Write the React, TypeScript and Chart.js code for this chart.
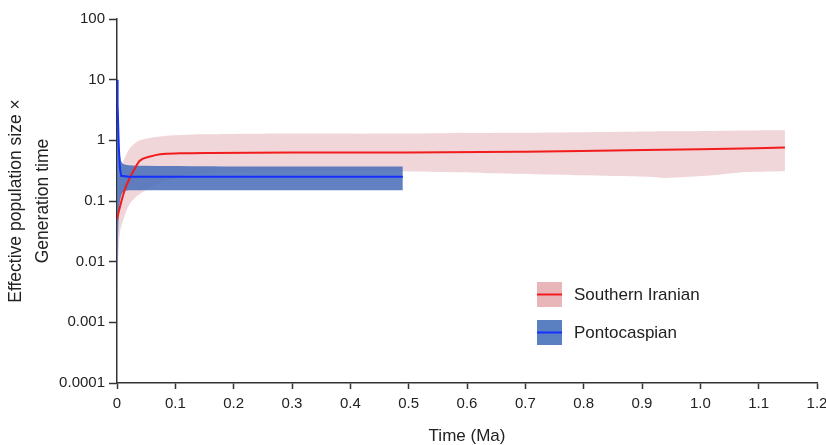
import React, { useEffect, useRef } from 'react';
import { Chart, registerables } from 'chart.js';

Chart.register(...registerables);

// ---- Axis ticks ----
const xTickValues = [0, 0.1, 0.2, 0.3, 0.4, 0.5, 0.6, 0.7, 0.8, 0.9, 1.0, 1.1, 1.2];
const xTickLabels = ['0', '0.1', '0.2', '0.3', '0.4', '0.5', '0.6', '0.7', '0.8', '0.9', '1.0', '1.1', '1.2'];
const yTickValues = [0.0001, 0.001, 0.01, 0.1, 1, 10, 100];
const yTickLabels = ['0.0001', '0.001', '0.01', '0.1', '1', '10', '100'];

// ---- Southern Iranian (95% HPD band + median) ----
const iranBandTime = [0, 0.005, 0.014, 0.022, 0.039, 0.074, 0.12, 0.2, 0.3, 0.45, 0.565, 0.68, 0.79, 0.91, 0.94, 1.02, 1.08, 1.145];
const iranUpper = [0.1, 0.32, 0.53, 0.74, 1.0, 1.16, 1.24, 1.27, 1.29, 1.29, 1.31, 1.33, 1.36, 1.4, 1.41, 1.43, 1.45, 1.46];
const iranLower = [0.003, 0.03, 0.06, 0.09, 0.13, 0.2, 0.27, 0.3, 0.31, 0.31, 0.3, 0.28, 0.265, 0.25, 0.24, 0.265, 0.3, 0.31];
const iranMedianTime = [0, 0.005, 0.014, 0.022, 0.031, 0.039, 0.057, 0.074, 0.108, 0.16, 0.3, 0.5, 0.7, 0.85, 1.0, 1.145];
const iranMedian = [0.05, 0.08, 0.16, 0.24, 0.35, 0.46, 0.54, 0.59, 0.61, 0.62, 0.63, 0.63, 0.65, 0.68, 0.71, 0.76];

// ---- Pontocaspian (95% HPD band + median) ----
const pontoBandTime = [0, 0.002, 0.004, 0.006, 0.01, 0.02, 0.05, 0.2, 0.49];
const pontoUpper = [12, 3, 0.9, 0.5, 0.41, 0.39, 0.38, 0.37, 0.37];
const pontoLower = [0.003, 0.03, 0.08, 0.11, 0.14, 0.15, 0.15, 0.15, 0.15];
const pontoMedianTime = [0, 0.001, 0.003, 0.005, 0.007, 0.02, 0.49];
const pontoMedian = [10, 4, 0.8, 0.35, 0.26, 0.25, 0.25];

const seriesNames = ['Southern Iranian', 'Pontocaspian'];

const FONT = '"Liberation Sans", Arial, Helvetica, sans-serif';
const AXIS_COLOR = '#333333';
const TEXT_COLOR = '#222222';

const iranBandColor = 'rgba(218,152,160,0.4)';
const iranLineColor = '#f21c1c';
const pontoBandColor = 'rgba(75,112,185,0.88)';
const pontoLineColor = '#1430ff';
const legendSwatches = ['#e8b5b9', '#5b80c2'];
const legendLines = [iranLineColor, pontoLineColor];

const pts = (xs: number[], ys: number[]) => xs.map((x, i) => ({ x, y: ys[i] }));

const legendPlugin = {
  id: 'customLegend',
  afterDraw(chart: any) {
    const { ctx, chartArea } = chart;
    const left = chartArea.left + 420;
    const top = chartArea.top + 263;
    const box = 25;
    const gap = 38;
    ctx.save();
    seriesNames.forEach((name, i) => {
      const y = top + i * gap;
      ctx.fillStyle = legendSwatches[i];
      ctx.fillRect(left, y, box, box);
      ctx.strokeStyle = legendLines[i];
      ctx.lineWidth = 2;
      ctx.beginPath();
      ctx.moveTo(left, y + box / 2);
      ctx.lineTo(left + box, y + box / 2);
      ctx.stroke();
      ctx.fillStyle = TEXT_COLOR;
      ctx.font = `17px ${FONT}`;
      ctx.textAlign = 'left';
      ctx.textBaseline = 'middle';
      ctx.fillText(name, left + box + 12, y + box / 2 + 1);
    });
    ctx.restore();
  },
};

export default function App() {
  const canvasRef = useRef<HTMLCanvasElement | null>(null);

  useEffect(() => {
    if (!canvasRef.current) return;
    const bandCommon = { borderWidth: 0, pointRadius: 0, pointHoverRadius: 0, tension: 0.3 };
    const chart = new Chart(canvasRef.current, {
      type: 'line',
      data: {
        datasets: [
          {
            label: seriesNames[0] + ' upper',
            data: pts(iranBandTime, iranUpper),
            backgroundColor: iranBandColor,
            fill: '+1',
            order: 4,
            ...bandCommon,
          },
          {
            label: seriesNames[0] + ' lower',
            data: pts(iranBandTime, iranLower),
            fill: false,
            order: 4,
            ...bandCommon,
          },
          {
            label: seriesNames[1] + ' upper',
            data: pts(pontoBandTime, pontoUpper),
            backgroundColor: pontoBandColor,
            fill: '+1',
            order: 3,
            ...bandCommon,
          },
          {
            label: seriesNames[1] + ' lower',
            data: pts(pontoBandTime, pontoLower),
            fill: false,
            order: 3,
            ...bandCommon,
          },
          {
            label: seriesNames[0],
            data: pts(iranMedianTime, iranMedian),
            borderColor: iranLineColor,
            borderWidth: 2,
            pointRadius: 0,
            fill: false,
            cubicInterpolationMode: 'monotone',
            order: 2,
          },
          {
            label: seriesNames[1],
            data: pts(pontoMedianTime, pontoMedian),
            borderColor: pontoLineColor,
            borderWidth: 2,
            pointRadius: 0,
            fill: false,
            order: 1,
          },
        ],
      },
      options: {
        animation: false,
        responsive: false,
        devicePixelRatio: 1,
        layout: { padding: { top: 19, right: 9, left: 0, bottom: 0 } },
        plugins: {
          legend: { display: false },
          tooltip: { enabled: false },
        },
        scales: {
          x: {
            type: 'linear',
            min: 0,
            max: 1.2,
            afterBuildTicks: (scale: any) => {
              scale.ticks = xTickValues.map((v) => ({ value: v }));
            },
            afterFit: (scale: any) => {
              scale.height = 62;
              scale.paddingLeft = 0;
              scale.paddingRight = 0;
            },
            border: { display: true, color: AXIS_COLOR, width: 1.5 },
            grid: { display: true, drawOnChartArea: false, color: AXIS_COLOR, tickLength: 6, tickWidth: 1.5 },
            ticks: {
              color: TEXT_COLOR,
              font: { family: FONT, size: 15 },
              padding: 6,
              maxRotation: 0,
              autoSkip: false,
              callback: (_v: any, i: number) => xTickLabels[i],
            },
            title: {
              display: true,
              text: 'Time (Ma)',
              color: TEXT_COLOR,
              font: { family: FONT, size: 17, lineHeight: 1 },
              padding: 0,
            },
          },
          y: {
            type: 'logarithmic',
            min: 0.0001,
            max: 100,
            afterBuildTicks: (scale: any) => {
              scale.ticks = yTickValues.map((v) => ({ value: v }));
            },
            afterFit: (scale: any) => {
              scale.width = 117;
              scale.paddingTop = 0;
              scale.paddingBottom = 0;
            },
            border: { display: true, color: AXIS_COLOR, width: 1.5 },
            grid: { display: true, drawOnChartArea: false, color: AXIS_COLOR, tickLength: 8, tickWidth: 1.5 },
            ticks: {
              color: TEXT_COLOR,
              font: { family: FONT, size: 15 },
              padding: 4,
              autoSkip: false,
              callback: (_v: any, i: number) => yTickLabels[i],
            },
            title: {
              display: true,
              text: ['Effective population size \u00d7', 'Generation time'],
              color: TEXT_COLOR,
              font: { family: FONT, size: 17.5, lineHeight: 1.52 },
              padding: { top: 3, bottom: 0 },
            },
          },
        },
      },
      plugins: [legendPlugin],
    } as any);
    return () => chart.destroy();
  }, []);

  return (
    <div style={{ position: 'absolute', left: 0, top: 0, width: 826, height: 445, background: '#fff' }}>
      <canvas ref={canvasRef} width={826} height={445} style={{ display: 'block' }} />
    </div>
  );
}
